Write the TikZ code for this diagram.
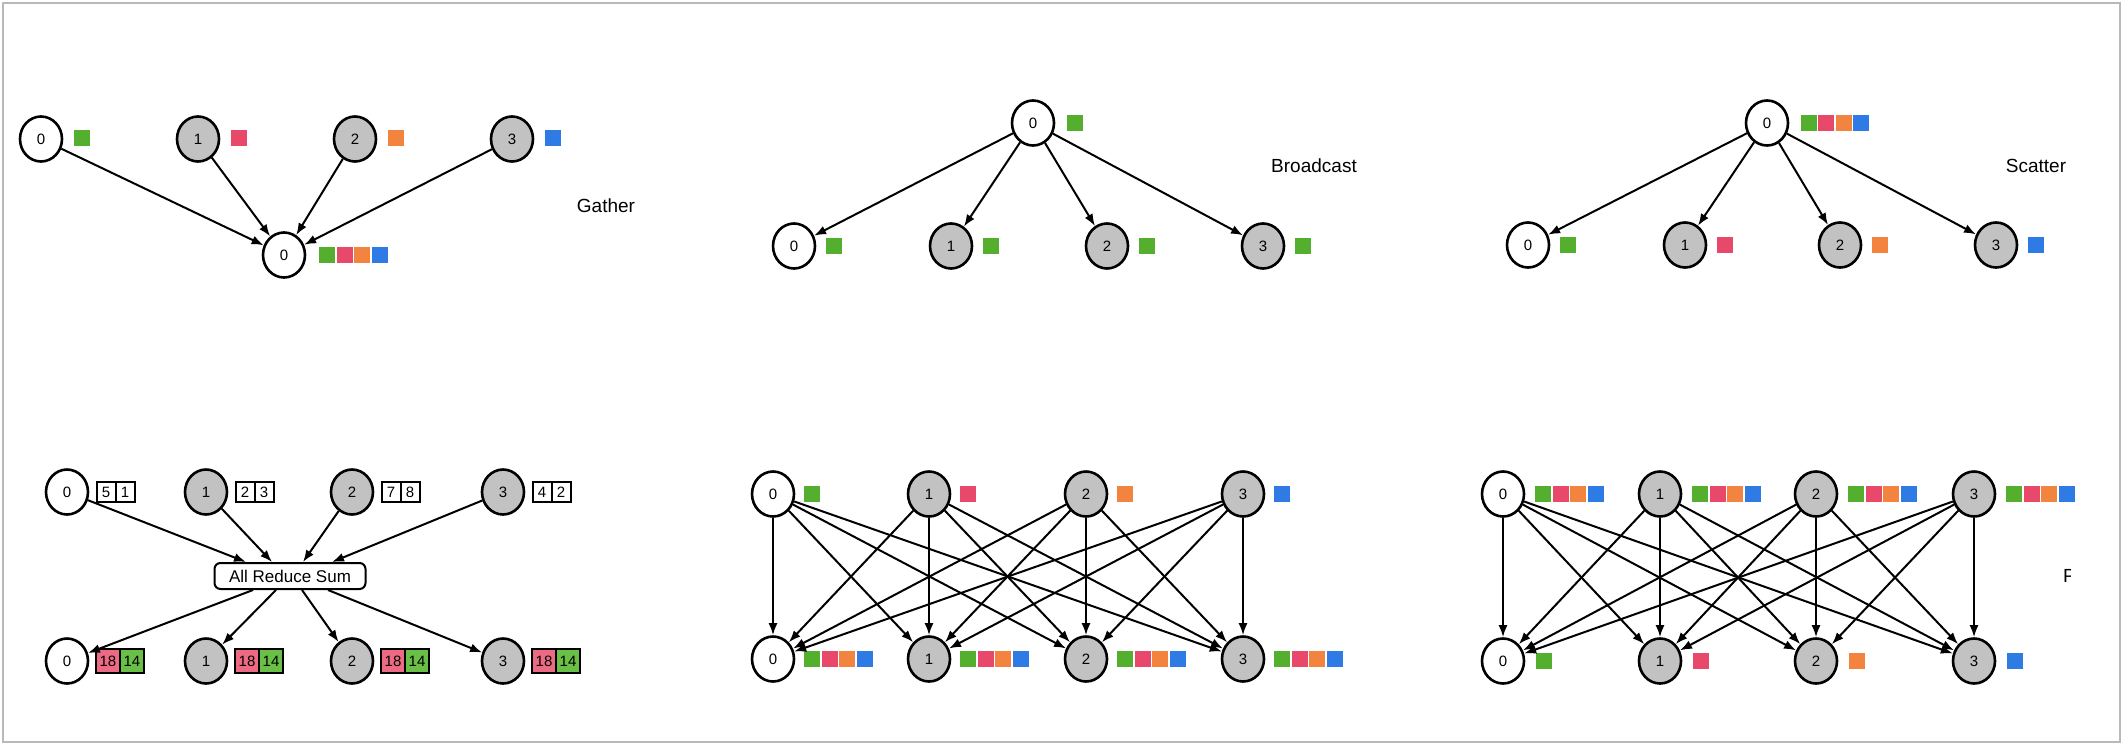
\documentclass[tikz,border=0pt]{standalone}
\usepackage{fontspec}
\setmainfont{Liberation Sans}
\usepackage{xcolor}
\usepackage{tikz}
\usetikzlibrary{arrows.meta}
\usetikzlibrary{shapes.geometric}
\definecolor{sqgreen}{HTML}{55AF2E}
\definecolor{sqred}{HTML}{E8486A}
\definecolor{sqorange}{HTML}{F3843F}
\definecolor{sqblue}{HTML}{2E7BE5}
\definecolor{rankgray}{HTML}{C2C2C2}
\definecolor{sumred}{HTML}{EC6A83}
\definecolor{sumgreen}{HTML}{6ABF46}

\tikzset{
  rank/.style={draw=black, ellipse, line width=2.6pt, minimum width=42pt, minimum height=45pt, inner sep=0pt, fill=white, font=\fontsize{15}{15}\selectfont},
  peer/.style={rank, fill=rankgray},
  chunk/.style={minimum size=16pt, inner sep=0pt, fill=#1},
  conn/.style={-{Latex[length=12pt,width=9pt]}, line width=2pt},
  cell/.style={draw, line width=2pt, minimum width=19pt, minimum height=20pt, inner sep=0pt, font=\fontsize{15}{15}\selectfont},
  sumcell/.style={cell, minimum width=24pt, minimum height=24pt, fill=#1},
  title/.style={font=\fontsize{19}{19}\selectfont}
}

\begin{document}
\begin{tikzpicture}[x=1pt,y=-1pt]
\useasboundingbox (0,0) rectangle (2124,746);
\fill[white] (0,0) rectangle (2124,746);
\draw[gray!55, line width=2pt] (3,3) rectangle (2120,742);

%% gather
\foreach \i/\x/\s/\c in {0/41/rank/sqgreen, 1/198/peer/sqred, 2/355/peer/sqorange, 3/512/peer/sqblue} {
    \node[\s] (g\i) at (\x,139) {\i};
    \node[chunk=\c] (gc\i) at (\x+41,138) {};
}
\node[rank] (gr) at (284,255) {0};
\foreach \c [count=\k] in {sqgreen,sqred,sqorange,sqblue}
    \node[chunk=\c] (grc\k) at (309.5+17.5*\k,255) {};
\foreach \i in {0,...,3}
    \draw[conn] (g\i) -- (gr);
\node[title] (gather) at (606,206) {Gather};

%% broadcast
\node[rank] (b) at (1033,123) {0};
\node[chunk=sqgreen] (bc) at (1075,123) {};
\foreach \i/\x/\s in {0/794/rank, 1/951/peer, 2/1107/peer, 3/1263/peer} {
    \node[\s] (b\i) at (\x,246) {\i};
    \node[chunk=sqgreen] (bc\i) at (\x+40,246) {};
    \draw[conn] (b) -- (b\i);
}
\node[title] (broadcast) at (1314,166) {Broadcast};

%% scatter
\node[rank] (s) at (1767,123) {0};
\foreach \c [count=\k] in {sqgreen,sqred,sqorange,sqblue}
    \node[chunk=\c] (sc\k) at (1791+17.5*\k,123) {};
\foreach \i/\x/\s/\c in {0/1528/rank/sqgreen, 1/1685/peer/sqred, 2/1840/peer/sqorange, 3/1996/peer/sqblue} {
    \node[\s] (s\i) at (\x,245) {\i};
    \node[chunk=\c] (sc\i) at (\x+40,245) {};
    \draw[conn] (s) -- (s\i);
}
\node[title] (scatter) at (2036,166) {Scatter};

%% all reduce
\node[draw, line width=2pt, rounded corners=6pt, minimum width=151pt, minimum height=26pt, inner sep=0pt, font=\fontsize{17}{17}\selectfont] (ars) at (290,576) {All Reduce Sum};
\foreach \i/\x/\s/\a/\b/\tx/\fx in {0/67/rank/5/1/-44/-37, 1/206/peer/2/3/-18/-14, 2/352/peer/7/8/13/12, 3/503/peer/4/2/42/38} {
    \node[\s] (r\i) at (\x,492) {\i};
    \node[cell] (ra\i) at (\x+39,492) {\a};
    \node[cell] (rb\i) at (\x+58,492) {\b};
    \node[\s] (rs\i) at (\x,661) {\i};
    \node[sumcell=sumred] (rsa\i) at (\x+41,661) {18};
    \node[sumcell=sumgreen] (rsb\i) at (\x+65,661) {14};
    \draw[conn] (r\i) -- ([xshift=\tx pt]ars.north);
    \draw[conn] ([xshift=\fx pt]ars.south) -- (rs\i);
}

%% all gather
\foreach \i/\x/\s/\c in {0/773/rank/sqgreen, 1/929/peer/sqred, 2/1086/peer/sqorange, 3/1243/peer/sqblue} {
    \node[\s] (ag\i) at (\x,494) {\i};
    \node[chunk=\c] (agc\i) at (\x+39,494) {};
    \node[\s] (agb\i) at (\x,659) {\i};
}
\foreach \i/\x in {0/773, 1/929, 2/1086, 3/1243}
    \foreach \c [count=\k] in {sqgreen,sqred,sqorange,sqblue}
        \node[chunk=\c] (agbc\i\k) at (\x+21.5+17.5*\k,659) {};
\foreach \i in {0,...,3}
    \foreach \j in {0,...,3}
        \draw[conn] (ag\i) -- (agb\j);

%% all to all
\foreach \i/\x/\s/\c in {0/1503/rank/sqgreen, 1/1660/peer/sqred, 2/1816/peer/sqorange, 3/1974/peer/sqblue} {
    \node[\s] (aa\i) at (\x,494) {\i};
    \node[\s] (aab\i) at (\x,661) {\i};
    \node[chunk=\c] (aabc\i) at (\x+41,661) {};
}
\foreach \i/\x in {0/1503, 1/1660, 2/1816, 3/1974}
    \foreach \c [count=\k] in {sqgreen,sqred,sqorange,sqblue}
        \node[chunk=\c] (aac\i\k) at (\x+22.5+17.5*\k,494) {};
\foreach \i in {0,...,3}
    \foreach \j in {0,...,3}
        \draw[conn] (aa\i) -- (aab\j);

\begin{scope}
\clip (2055,560) rectangle (2070,592);
\node[title, anchor=west, inner sep=0pt] (alltoall) at (2063,576) {P};
\end{scope}
\end{tikzpicture}
\end{document}
